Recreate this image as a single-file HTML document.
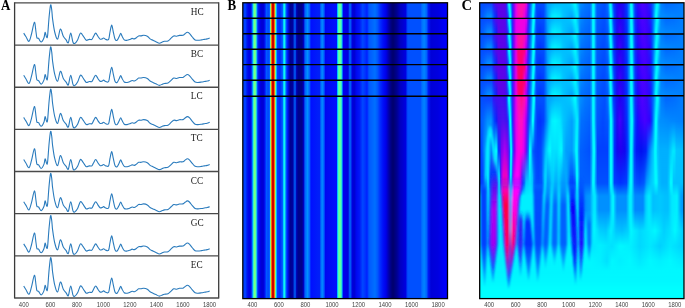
<!DOCTYPE html>
<html><head><meta charset="utf-8"><style>
html,body{margin:0;padding:0;background:#fff;}
body{width:685px;height:308px;overflow:hidden;position:relative;}
.abs{position:absolute;}
.m{-webkit-mask-image:linear-gradient(to bottom,transparent,#000);mask-image:linear-gradient(to bottom,transparent,#000);}
svg{position:absolute;left:0;top:0;}
</style></head><body>
<div class="abs" style="left:243.0px;top:3.2px;width:204.2px;height:294.8px;background:linear-gradient(to right,#0040ff 0.5px,#0040ff 2.5px,#0018f0 4.0px,#0000e4 6.0px,#0008e8 7.8px,#0040ff 8.8px,#00a8ff 9.7px,#40ffc0 10.6px,#90ff70 11.8px,#40ffc0 13.0px,#00a0ff 13.9px,#0028ff 14.8px,#0000e8 17.0px,#0000d0 19.0px,#0000e0 21.0px,#0030ff 22.5px,#0064ff 23.7px,#0040ff 25.0px,#0060ff 26.5px,#50ffb0 27.3px,#ffe000 28.0px,#ff5000 28.6px,#e00000 29.3px,#a00000 30.0px,#e00000 30.7px,#ff5000 31.4px,#ffd000 31.8px,#60ffa0 32.6px,#00c0ff 33.4px,#0040ff 34.2px,#0024ff 37.0px,#0060ff 39.6px,#00d0ff 40.5px,#20ffe0 41.3px,#00d0ff 42.1px,#0060ff 43.0px,#0020ff 44.3px,#0000c0 46.2px,#000090 47.5px,#0000a0 49.8px,#0064ff 52.0px,#0000b0 53.6px,#00008c 55.3px,#00008c 59.0px,#0000c0 60.5px,#0060ff 62.0px,#0090ff 64.5px,#0060ff 66.5px,#0010ff 68.0px,#0020f8 76.5px,#0070ff 78.0px,#0088ff 79.4px,#0060ff 81.0px,#0008f0 82.5px,#0010ff 93.5px,#00c0ff 94.5px,#40ffc0 95.3px,#70ff90 96.7px,#40ffc0 98.2px,#00a0ff 99.2px,#0000f0 100.2px,#0000e0 105.1px,#0070ff 107.0px,#0000e0 109.3px,#0000d0 111.2px,#0008f0 113.4px,#0018f8 116.5px,#0048ff 119.7px,#0030ff 122.5px,#0020ff 124.0px,#0058ff 126.0px,#0070ff 132.0px,#0058ff 134.5px,#0030ff 137.0px,#0010f8 140.0px,#0000e8 143.0px,#0000b0 145.5px,#000080 148.0px,#00006c 150.0px,#000090 153.8px,#0000c0 157.0px,#0000e0 162.5px,#0050ff 164.8px,#0050ff 177.5px,#0070ff 179.0px,#0084ff 181.2px,#0064ff 183.5px,#0018f4 185.5px,#0000d8 188.0px,#0000e0 195.0px,#0000f4 200.0px,#0000ff 204.0px)"></div>
<div class="abs" style="left:480.0px;top:3.0px;width:204.0px;height:15.4px;background:linear-gradient(to right,#0050ff 0.5px,#0848ff 6.0px,#1040ff 11.7px,#3018f8 13.5px,#5c04e8 16.0px,#5c04e8 22.0px,#5c04e8 25.3px,#1040ff 26.7px,#00c0ff 28.0px,#00ffff 28.6px,#00ffff 29.7px,#00c0ff 30.3px,#2030ff 32.0px,#8000f0 34.0px,#e000f0 36.0px,#ff10b0 38.0px,#ff10b0 41.5px,#ff10b0 44.5px,#e000f0 46.5px,#6010f0 48.0px,#1040ff 49.5px,#0070ff 51.0px,#00d0ff 52.5px,#00ffff 53.1px,#00ffff 54.4px,#00b0ff 55.0px,#0050ff 56.5px,#0050ff 64.0px,#00a0ff 67.5px,#00b8ff 75.0px,#00c0ff 86.0px,#00c8ff 90.0px,#00e0ff 92.5px,#00f8ff 94.3px,#00f8ff 95.7px,#00c0ff 97.5px,#0090ff 100.0px,#0078ff 105.0px,#0070ff 110.0px,#00b0ff 111.8px,#00f8ff 112.7px,#00f8ff 114.1px,#00b0ff 115.0px,#0060ff 117.0px,#0050ff 125.0px,#0070ff 127.5px,#00b0ff 129.0px,#00f8ff 129.7px,#00f8ff 131.1px,#00b0ff 131.8px,#0040ff 133.5px,#1018f8 136.0px,#2000f0 139.5px,#1810f8 144.0px,#0040ff 147.0px,#00a0ff 149.5px,#00f8ff 150.6px,#00f8ff 152.0px,#00a0ff 153.0px,#1030ff 155.0px,#3008f8 158.0px,#5000ff 162.2px,#3808f8 167.0px,#1030ff 171.0px,#0070ff 173.5px,#00c0ff 175.5px,#00f8ff 176.7px,#00f8ff 178.1px,#00c0ff 179.3px,#0080ff 181.0px,#0068ff 186.0px,#0070ff 195.0px,#0080ff 204.0px)"></div>
<div class="abs m" style="left:480.0px;top:3.0px;width:204.0px;height:15.4px;background:linear-gradient(to right,#0058ff 0.5px,#0068ff 3.5px,#0090ff 7.5px,#0098ff 11.0px,#0040ff 14.6px,#1020f8 16.5px,#5c04e8 18.5px,#5c04e8 23.0px,#4010f0 27.2px,#1040ff 28.3px,#00b0ff 29.3px,#00ffff 29.8px,#00ffff 30.8px,#00b0ff 31.3px,#2030ff 32.5px,#8000f0 33.9px,#e000f0 36.0px,#ff10b0 39.0px,#ff10b0 42.0px,#e000f0 44.5px,#a000f0 46.1px,#3020ff 48.0px,#0070ff 50.0px,#00c0ff 51.6px,#00ffff 52.2px,#00ffff 53.4px,#00b0ff 54.0px,#0060ff 55.5px,#0038ff 57.5px,#0030ff 60.2px,#0040ff 63.5px,#0070ff 65.8px,#00c0ff 69.0px,#00f0ff 72.0px,#00f8ff 75.0px,#00e8ff 80.0px,#00c8ff 83.0px,#00b0ff 88.0px,#00a0ff 92.0px,#00c0ff 94.5px,#00e8ff 96.6px,#00e8ff 98.0px,#00a0ff 99.0px,#0070ff 101.0px,#0060ff 109.5px,#00a0ff 111.5px,#00f8ff 112.7px,#00f8ff 114.1px,#00a0ff 115.3px,#0058ff 117.0px,#0048ff 123.0px,#0058ff 128.0px,#00b0ff 129.8px,#00f8ff 130.5px,#00f8ff 131.9px,#00b0ff 132.6px,#0040ff 134.5px,#2008f0 137.0px,#4000ff 139.8px,#2008f0 143.0px,#0030ff 147.0px,#00b0ff 149.8px,#00f8ff 151.0px,#00f8ff 152.4px,#00a0ff 153.5px,#0040ff 155.0px,#1010ff 157.3px,#3000ff 160.0px,#4800ff 164.8px,#3000ff 169.9px,#0040ff 172.0px,#00b0ff 174.2px,#00f8ff 175.5px,#00f8ff 176.9px,#00b0ff 178.0px,#0090ff 180.0px,#0088ff 190.0px,#0080ff 204.0px)"></div>
<div class="abs" style="left:480.0px;top:18.4px;width:204.0px;height:15.6px;background:linear-gradient(to right,#0050ff 0.5px,#0848ff 6.0px,#1040ff 11.7px,#3018f8 13.5px,#5c04e8 16.0px,#5c04e8 22.0px,#5c04e8 25.3px,#1040ff 26.7px,#00c0ff 28.0px,#00ffff 28.6px,#00ffff 29.7px,#00c0ff 30.3px,#2030ff 32.0px,#8000f0 34.0px,#e000f0 36.0px,#f000e0 38.0px,#f000e0 41.5px,#f000e0 44.5px,#e000f0 46.5px,#6010f0 48.0px,#1040ff 49.5px,#0070ff 51.0px,#00d0ff 52.5px,#00ffff 53.1px,#00ffff 54.4px,#00b0ff 55.0px,#0050ff 56.5px,#0050ff 64.0px,#00a0ff 67.5px,#00b8ff 75.0px,#00c0ff 86.0px,#00c8ff 90.0px,#00e0ff 92.5px,#00f8ff 94.3px,#00f8ff 95.7px,#00c0ff 97.5px,#0090ff 100.0px,#0078ff 105.0px,#0070ff 110.0px,#00b0ff 111.8px,#00f8ff 112.7px,#00f8ff 114.1px,#00b0ff 115.0px,#0060ff 117.0px,#0050ff 125.0px,#0070ff 127.5px,#00b0ff 129.0px,#00f8ff 129.7px,#00f8ff 131.1px,#00b0ff 131.8px,#0040ff 133.5px,#1018f8 136.0px,#2000f0 139.5px,#1810f8 144.0px,#0040ff 147.0px,#00a0ff 149.5px,#00f8ff 150.6px,#00f8ff 152.0px,#00a0ff 153.0px,#1030ff 155.0px,#3008f8 158.0px,#5000ff 162.2px,#3808f8 167.0px,#1030ff 171.0px,#0070ff 173.5px,#00c0ff 175.5px,#00f8ff 176.7px,#00f8ff 178.1px,#00c0ff 179.3px,#0080ff 181.0px,#0068ff 186.0px,#0070ff 195.0px,#0080ff 204.0px)"></div>
<div class="abs m" style="left:480.0px;top:18.4px;width:204.0px;height:15.6px;background:linear-gradient(to right,#0058ff 0.5px,#0068ff 3.5px,#0090ff 7.5px,#0098ff 11.0px,#0040ff 14.6px,#1020f8 16.5px,#5c04e8 18.5px,#5c04e8 23.0px,#4010f0 27.2px,#1040ff 28.3px,#00b0ff 29.3px,#00ffff 29.8px,#00ffff 30.8px,#00b0ff 31.3px,#2030ff 32.5px,#8000f0 33.9px,#e000f0 36.0px,#f000e0 39.0px,#f000e0 42.0px,#e000f0 44.5px,#a000f0 46.1px,#3020ff 48.0px,#0070ff 50.0px,#00c0ff 51.6px,#00ffff 52.2px,#00ffff 53.4px,#00b0ff 54.0px,#0060ff 55.5px,#0038ff 57.5px,#0030ff 60.2px,#0040ff 63.5px,#0070ff 65.8px,#00c0ff 69.0px,#00f0ff 72.0px,#00f8ff 75.0px,#00e8ff 80.0px,#00c8ff 83.0px,#00b0ff 88.0px,#00a0ff 92.0px,#00c0ff 94.5px,#00e8ff 96.6px,#00e8ff 98.0px,#00a0ff 99.0px,#0070ff 101.0px,#0060ff 109.5px,#00a0ff 111.5px,#00f8ff 112.7px,#00f8ff 114.1px,#00a0ff 115.3px,#0058ff 117.0px,#0048ff 123.0px,#0058ff 128.0px,#00b0ff 129.8px,#00f8ff 130.5px,#00f8ff 131.9px,#00b0ff 132.6px,#0040ff 134.5px,#2008f0 137.0px,#4000ff 139.8px,#2008f0 143.0px,#0030ff 147.0px,#00b0ff 149.8px,#00f8ff 151.0px,#00f8ff 152.4px,#00a0ff 153.5px,#0040ff 155.0px,#1010ff 157.3px,#3000ff 160.0px,#4800ff 164.8px,#3000ff 169.9px,#0040ff 172.0px,#00b0ff 174.2px,#00f8ff 175.5px,#00f8ff 176.9px,#00b0ff 178.0px,#0090ff 180.0px,#0088ff 190.0px,#0080ff 204.0px)"></div>
<div class="abs" style="left:480.0px;top:34.0px;width:204.0px;height:15.3px;background:linear-gradient(to right,#0050ff 0.5px,#0848ff 6.0px,#1040ff 11.7px,#3018f8 13.5px,#5c04e8 16.0px,#5c04e8 22.0px,#5c04e8 25.3px,#1040ff 26.7px,#00c0ff 28.0px,#00ffff 28.6px,#00ffff 29.7px,#00c0ff 30.3px,#2030ff 32.0px,#8000f0 34.0px,#e000f0 36.0px,#ff10a0 38.0px,#ff10a0 41.5px,#ff10a0 44.5px,#e000f0 46.5px,#6010f0 48.0px,#1040ff 49.5px,#0070ff 51.0px,#00d0ff 52.5px,#00ffff 53.1px,#00ffff 54.4px,#00b0ff 55.0px,#0050ff 56.5px,#0050ff 64.0px,#00a0ff 67.5px,#00b8ff 75.0px,#00c0ff 86.0px,#00c8ff 90.0px,#00e0ff 92.5px,#00f8ff 94.3px,#00f8ff 95.7px,#00c0ff 97.5px,#0090ff 100.0px,#0078ff 105.0px,#0070ff 110.0px,#00b0ff 111.8px,#00f8ff 112.7px,#00f8ff 114.1px,#00b0ff 115.0px,#0060ff 117.0px,#0050ff 125.0px,#0070ff 127.5px,#00b0ff 129.0px,#00f8ff 129.7px,#00f8ff 131.1px,#00b0ff 131.8px,#0040ff 133.5px,#1018f8 136.0px,#2000f0 139.5px,#1810f8 144.0px,#0040ff 147.0px,#00a0ff 149.5px,#00f8ff 150.6px,#00f8ff 152.0px,#00a0ff 153.0px,#1030ff 155.0px,#3008f8 158.0px,#5000ff 162.2px,#3808f8 167.0px,#1030ff 171.0px,#0070ff 173.5px,#00c0ff 175.5px,#00f8ff 176.7px,#00f8ff 178.1px,#00c0ff 179.3px,#0080ff 181.0px,#0068ff 186.0px,#0070ff 195.0px,#0080ff 204.0px)"></div>
<div class="abs m" style="left:480.0px;top:34.0px;width:204.0px;height:15.3px;background:linear-gradient(to right,#0058ff 0.5px,#0068ff 3.5px,#0090ff 7.5px,#0098ff 11.0px,#0040ff 14.6px,#1020f8 16.5px,#5c04e8 18.5px,#5c04e8 23.0px,#4010f0 27.2px,#1040ff 28.3px,#00b0ff 29.3px,#00ffff 29.8px,#00ffff 30.8px,#00b0ff 31.3px,#2030ff 32.5px,#8000f0 33.9px,#e000f0 36.0px,#ff10a0 39.0px,#ff10a0 42.0px,#e000f0 44.5px,#a000f0 46.1px,#3020ff 48.0px,#0070ff 50.0px,#00c0ff 51.6px,#00ffff 52.2px,#00ffff 53.4px,#00b0ff 54.0px,#0060ff 55.5px,#0038ff 57.5px,#0030ff 60.2px,#0040ff 63.5px,#0070ff 65.8px,#00c0ff 69.0px,#00f0ff 72.0px,#00f8ff 75.0px,#00e8ff 80.0px,#00c8ff 83.0px,#00b0ff 88.0px,#00a0ff 92.0px,#00c0ff 94.5px,#00e8ff 96.6px,#00e8ff 98.0px,#00a0ff 99.0px,#0070ff 101.0px,#0060ff 109.5px,#00a0ff 111.5px,#00f8ff 112.7px,#00f8ff 114.1px,#00a0ff 115.3px,#0058ff 117.0px,#0048ff 123.0px,#0058ff 128.0px,#00b0ff 129.8px,#00f8ff 130.5px,#00f8ff 131.9px,#00b0ff 132.6px,#0040ff 134.5px,#2008f0 137.0px,#4000ff 139.8px,#2008f0 143.0px,#0030ff 147.0px,#00b0ff 149.8px,#00f8ff 151.0px,#00f8ff 152.4px,#00a0ff 153.5px,#0040ff 155.0px,#1010ff 157.3px,#3000ff 160.0px,#4800ff 164.8px,#3000ff 169.9px,#0040ff 172.0px,#00b0ff 174.2px,#00f8ff 175.5px,#00f8ff 176.9px,#00b0ff 178.0px,#0090ff 180.0px,#0088ff 190.0px,#0080ff 204.0px)"></div>
<div class="abs" style="left:480.0px;top:49.3px;width:204.0px;height:15.5px;background:linear-gradient(to right,#0050ff 0.5px,#0848ff 6.0px,#1040ff 11.7px,#3018f8 13.5px,#5c04e8 16.0px,#5c04e8 22.0px,#5c04e8 25.3px,#1040ff 26.7px,#00c0ff 28.0px,#00ffff 28.6px,#00ffff 29.7px,#00c0ff 30.3px,#2030ff 32.0px,#8000f0 34.0px,#e000f0 36.0px,#ff0070 38.0px,#ff0070 41.5px,#ff0070 44.5px,#e000f0 46.5px,#6010f0 48.0px,#1040ff 49.5px,#0070ff 51.0px,#00d0ff 52.5px,#00ffff 53.1px,#00ffff 54.4px,#00b0ff 55.0px,#0050ff 56.5px,#0050ff 64.0px,#00a0ff 67.5px,#00b8ff 75.0px,#00c0ff 86.0px,#00c8ff 90.0px,#00e0ff 92.5px,#00f8ff 94.3px,#00f8ff 95.7px,#00c0ff 97.5px,#0090ff 100.0px,#0078ff 105.0px,#0070ff 110.0px,#00b0ff 111.8px,#00f8ff 112.7px,#00f8ff 114.1px,#00b0ff 115.0px,#0060ff 117.0px,#0050ff 125.0px,#0070ff 127.5px,#00b0ff 129.0px,#00f8ff 129.7px,#00f8ff 131.1px,#00b0ff 131.8px,#0040ff 133.5px,#1018f8 136.0px,#2000f0 139.5px,#1810f8 144.0px,#0040ff 147.0px,#00a0ff 149.5px,#00f8ff 150.6px,#00f8ff 152.0px,#00a0ff 153.0px,#1030ff 155.0px,#3008f8 158.0px,#5000ff 162.2px,#3808f8 167.0px,#1030ff 171.0px,#0070ff 173.5px,#00c0ff 175.5px,#00f8ff 176.7px,#00f8ff 178.1px,#00c0ff 179.3px,#0080ff 181.0px,#0068ff 186.0px,#0070ff 195.0px,#0080ff 204.0px)"></div>
<div class="abs m" style="left:480.0px;top:49.3px;width:204.0px;height:15.5px;background:linear-gradient(to right,#0058ff 0.5px,#0068ff 3.5px,#0090ff 7.5px,#0098ff 11.0px,#0040ff 14.6px,#1020f8 16.5px,#5c04e8 18.5px,#5c04e8 23.0px,#4010f0 27.2px,#1040ff 28.3px,#00b0ff 29.3px,#00ffff 29.8px,#00ffff 30.8px,#00b0ff 31.3px,#2030ff 32.5px,#8000f0 33.9px,#e000f0 36.0px,#ff0070 39.0px,#ff0070 42.0px,#e000f0 44.5px,#a000f0 46.1px,#3020ff 48.0px,#0070ff 50.0px,#00c0ff 51.6px,#00ffff 52.2px,#00ffff 53.4px,#00b0ff 54.0px,#0060ff 55.5px,#0038ff 57.5px,#0030ff 60.2px,#0040ff 63.5px,#0070ff 65.8px,#00c0ff 69.0px,#00f0ff 72.0px,#00f8ff 75.0px,#00e8ff 80.0px,#00c8ff 83.0px,#00b0ff 88.0px,#00a0ff 92.0px,#00c0ff 94.5px,#00e8ff 96.6px,#00e8ff 98.0px,#00a0ff 99.0px,#0070ff 101.0px,#0060ff 109.5px,#00a0ff 111.5px,#00f8ff 112.7px,#00f8ff 114.1px,#00a0ff 115.3px,#0058ff 117.0px,#0048ff 123.0px,#0058ff 128.0px,#00b0ff 129.8px,#00f8ff 130.5px,#00f8ff 131.9px,#00b0ff 132.6px,#0040ff 134.5px,#2008f0 137.0px,#4000ff 139.8px,#2008f0 143.0px,#0030ff 147.0px,#00b0ff 149.8px,#00f8ff 151.0px,#00f8ff 152.4px,#00a0ff 153.5px,#0040ff 155.0px,#1010ff 157.3px,#3000ff 160.0px,#4800ff 164.8px,#3000ff 169.9px,#0040ff 172.0px,#00b0ff 174.2px,#00f8ff 175.5px,#00f8ff 176.9px,#00b0ff 178.0px,#0090ff 180.0px,#0088ff 190.0px,#0080ff 204.0px)"></div>
<div class="abs" style="left:480.0px;top:64.8px;width:204.0px;height:15.4px;background:linear-gradient(to right,#0050ff 0.5px,#0848ff 6.0px,#1040ff 11.7px,#3018f8 13.5px,#5c04e8 16.0px,#5c04e8 22.0px,#5c04e8 25.3px,#1040ff 26.7px,#00c0ff 28.0px,#00ffff 28.6px,#00ffff 29.7px,#00c0ff 30.3px,#2030ff 32.0px,#8000f0 34.0px,#e000f0 36.0px,#ff0060 38.0px,#ff0060 41.5px,#ff0060 44.5px,#e000f0 46.5px,#6010f0 48.0px,#1040ff 49.5px,#0070ff 51.0px,#00d0ff 52.5px,#00ffff 53.1px,#00ffff 54.4px,#00b0ff 55.0px,#0050ff 56.5px,#0050ff 64.0px,#00a0ff 67.5px,#00b8ff 75.0px,#00c0ff 86.0px,#00c8ff 90.0px,#00e0ff 92.5px,#00f8ff 94.3px,#00f8ff 95.7px,#00c0ff 97.5px,#0090ff 100.0px,#0078ff 105.0px,#0070ff 110.0px,#00b0ff 111.8px,#00f8ff 112.7px,#00f8ff 114.1px,#00b0ff 115.0px,#0060ff 117.0px,#0050ff 125.0px,#0070ff 127.5px,#00b0ff 129.0px,#00f8ff 129.7px,#00f8ff 131.1px,#00b0ff 131.8px,#0040ff 133.5px,#1018f8 136.0px,#2000f0 139.5px,#1810f8 144.0px,#0040ff 147.0px,#00a0ff 149.5px,#00f8ff 150.6px,#00f8ff 152.0px,#00a0ff 153.0px,#1030ff 155.0px,#3008f8 158.0px,#5000ff 162.2px,#3808f8 167.0px,#1030ff 171.0px,#0070ff 173.5px,#00c0ff 175.5px,#00f8ff 176.7px,#00f8ff 178.1px,#00c0ff 179.3px,#0080ff 181.0px,#0068ff 186.0px,#0070ff 195.0px,#0080ff 204.0px)"></div>
<div class="abs m" style="left:480.0px;top:64.8px;width:204.0px;height:15.4px;background:linear-gradient(to right,#0058ff 0.5px,#0068ff 3.5px,#0090ff 7.5px,#0098ff 11.0px,#0040ff 14.6px,#1020f8 16.5px,#5c04e8 18.5px,#5c04e8 23.0px,#4010f0 27.2px,#1040ff 28.3px,#00b0ff 29.3px,#00ffff 29.8px,#00ffff 30.8px,#00b0ff 31.3px,#2030ff 32.5px,#8000f0 33.9px,#e000f0 36.0px,#ff0060 39.0px,#ff0060 42.0px,#e000f0 44.5px,#a000f0 46.1px,#3020ff 48.0px,#0070ff 50.0px,#00c0ff 51.6px,#00ffff 52.2px,#00ffff 53.4px,#00b0ff 54.0px,#0060ff 55.5px,#0038ff 57.5px,#0030ff 60.2px,#0040ff 63.5px,#0070ff 65.8px,#00c0ff 69.0px,#00f0ff 72.0px,#00f8ff 75.0px,#00e8ff 80.0px,#00c8ff 83.0px,#00b0ff 88.0px,#00a0ff 92.0px,#00c0ff 94.5px,#00e8ff 96.6px,#00e8ff 98.0px,#00a0ff 99.0px,#0070ff 101.0px,#0060ff 109.5px,#00a0ff 111.5px,#00f8ff 112.7px,#00f8ff 114.1px,#00a0ff 115.3px,#0058ff 117.0px,#0048ff 123.0px,#0058ff 128.0px,#00b0ff 129.8px,#00f8ff 130.5px,#00f8ff 131.9px,#00b0ff 132.6px,#0040ff 134.5px,#2008f0 137.0px,#4000ff 139.8px,#2008f0 143.0px,#0030ff 147.0px,#00b0ff 149.8px,#00f8ff 151.0px,#00f8ff 152.4px,#00a0ff 153.5px,#0040ff 155.0px,#1010ff 157.3px,#3000ff 160.0px,#4800ff 164.8px,#3000ff 169.9px,#0040ff 172.0px,#00b0ff 174.2px,#00f8ff 175.5px,#00f8ff 176.9px,#00b0ff 178.0px,#0090ff 180.0px,#0088ff 190.0px,#0080ff 204.0px)"></div>
<div class="abs" style="left:480.0px;top:80.2px;width:204.0px;height:15.6px;background:linear-gradient(to right,#0050ff 0.5px,#0848ff 6.0px,#1040ff 11.7px,#3018f8 13.5px,#5c04e8 16.0px,#5c04e8 22.0px,#5c04e8 25.3px,#1040ff 26.7px,#00c0ff 28.0px,#00ffff 28.6px,#00ffff 29.7px,#00c0ff 30.3px,#2030ff 32.0px,#8000f0 34.0px,#e000f0 36.0px,#ff0060 38.0px,#ff0060 41.5px,#ff0060 44.5px,#e000f0 46.5px,#6010f0 48.0px,#1040ff 49.5px,#0070ff 51.0px,#00d0ff 52.5px,#00ffff 53.1px,#00ffff 54.4px,#00b0ff 55.0px,#0050ff 56.5px,#0050ff 64.0px,#00a0ff 67.5px,#00b8ff 75.0px,#00c0ff 86.0px,#00c8ff 90.0px,#00e0ff 92.5px,#00f8ff 94.3px,#00f8ff 95.7px,#00c0ff 97.5px,#0090ff 100.0px,#0078ff 105.0px,#0070ff 110.0px,#00b0ff 111.8px,#00f8ff 112.7px,#00f8ff 114.1px,#00b0ff 115.0px,#0060ff 117.0px,#0050ff 125.0px,#0070ff 127.5px,#00b0ff 129.0px,#00f8ff 129.7px,#00f8ff 131.1px,#00b0ff 131.8px,#0040ff 133.5px,#1018f8 136.0px,#2000f0 139.5px,#1810f8 144.0px,#0040ff 147.0px,#00a0ff 149.5px,#00f8ff 150.6px,#00f8ff 152.0px,#00a0ff 153.0px,#1030ff 155.0px,#3008f8 158.0px,#5000ff 162.2px,#3808f8 167.0px,#1030ff 171.0px,#0070ff 173.5px,#00c0ff 175.5px,#00f8ff 176.7px,#00f8ff 178.1px,#00c0ff 179.3px,#0080ff 181.0px,#0068ff 186.0px,#0070ff 195.0px,#0080ff 204.0px)"></div>
<div class="abs m" style="left:480.0px;top:80.2px;width:204.0px;height:15.6px;background:linear-gradient(to right,#0058ff 0.5px,#0068ff 3.5px,#0090ff 7.5px,#0098ff 11.0px,#0040ff 14.6px,#1020f8 16.5px,#5c04e8 18.5px,#5c04e8 23.0px,#4010f0 27.2px,#1040ff 28.3px,#00b0ff 29.3px,#00ffff 29.8px,#00ffff 30.8px,#00b0ff 31.3px,#2030ff 32.5px,#8000f0 33.9px,#e000f0 36.0px,#ff0060 39.0px,#ff0060 42.0px,#e000f0 44.5px,#a000f0 46.1px,#3020ff 48.0px,#0070ff 50.0px,#00c0ff 51.6px,#00ffff 52.2px,#00ffff 53.4px,#00b0ff 54.0px,#0060ff 55.5px,#0038ff 57.5px,#0030ff 60.2px,#0040ff 63.5px,#0070ff 65.8px,#00c0ff 69.0px,#00f0ff 72.0px,#00f8ff 75.0px,#00e8ff 80.0px,#00c8ff 83.0px,#00b0ff 88.0px,#00a0ff 92.0px,#00c0ff 94.5px,#00e8ff 96.6px,#00e8ff 98.0px,#00a0ff 99.0px,#0070ff 101.0px,#0060ff 109.5px,#00a0ff 111.5px,#00f8ff 112.7px,#00f8ff 114.1px,#00a0ff 115.3px,#0058ff 117.0px,#0048ff 123.0px,#0058ff 128.0px,#00b0ff 129.8px,#00f8ff 130.5px,#00f8ff 131.9px,#00b0ff 132.6px,#0040ff 134.5px,#2008f0 137.0px,#4000ff 139.8px,#2008f0 143.0px,#0030ff 147.0px,#00b0ff 149.8px,#00f8ff 151.0px,#00f8ff 152.4px,#00a0ff 153.5px,#0040ff 155.0px,#1010ff 157.3px,#3000ff 160.0px,#4800ff 164.8px,#3000ff 169.9px,#0040ff 172.0px,#00b0ff 174.2px,#00f8ff 175.5px,#00f8ff 176.9px,#00b0ff 178.0px,#0090ff 180.0px,#0088ff 190.0px,#0080ff 204.0px)"></div>
<div class="abs" style="left:480.0px;top:95.8px;width:204.0px;height:3.2px;background:linear-gradient(to right,#0050ff 0.5px,#0848ff 6.0px,#1040ff 11.7px,#3018f8 13.5px,#4010f0 16.0px,#4410f0 22.0px,#3c10f0 25.3px,#1040ff 26.7px,#00c0ff 28.0px,#00ffff 28.6px,#00ffff 29.7px,#00c0ff 30.3px,#2030ff 32.0px,#8000f0 34.0px,#e000f0 36.0px,#ff10b0 38.0px,#ff1090 41.5px,#ff10b0 44.5px,#e000f0 46.5px,#6010f0 48.0px,#1040ff 49.5px,#0070ff 51.0px,#00d0ff 52.5px,#00ffff 53.1px,#00ffff 54.4px,#00b0ff 55.0px,#0050ff 56.5px,#0050ff 64.0px,#00a0ff 67.5px,#00b8ff 75.0px,#00c0ff 86.0px,#00c8ff 90.0px,#00e0ff 92.5px,#00f8ff 94.3px,#00f8ff 95.7px,#00c0ff 97.5px,#0090ff 100.0px,#0078ff 105.0px,#0070ff 110.0px,#00b0ff 111.8px,#00f8ff 112.7px,#00f8ff 114.1px,#00b0ff 115.0px,#0060ff 117.0px,#0050ff 125.0px,#0070ff 127.5px,#00b0ff 129.0px,#00f8ff 129.7px,#00f8ff 131.1px,#00b0ff 131.8px,#0040ff 133.5px,#1018f8 136.0px,#2000f0 139.5px,#1810f8 144.0px,#0040ff 147.0px,#00a0ff 149.5px,#00f8ff 150.6px,#00f8ff 152.0px,#00a0ff 153.0px,#1030ff 155.0px,#3008f8 158.0px,#5000ff 162.2px,#3808f8 167.0px,#1030ff 171.0px,#0070ff 173.5px,#00c0ff 175.5px,#00f8ff 176.7px,#00f8ff 178.1px,#00c0ff 179.3px,#0080ff 181.0px,#0068ff 186.0px,#0070ff 195.0px,#0080ff 204.0px)"></div>
<div class="abs" style="left:480.0px;top:99.0px;width:204.0px;height:22.0px;background:linear-gradient(to right,#0050ff 0.5px,#0848ff 6.0px,#1040ff 11.7px,#3018f8 13.5px,#4010f0 16.0px,#4410f0 22.0px,#3c10f0 25.3px,#1040ff 26.7px,#00c0ff 28.0px,#00ffff 28.6px,#00ffff 29.7px,#00c0ff 30.3px,#2030ff 32.0px,#8000f0 34.0px,#e000f0 36.0px,#ff10b0 38.0px,#ff1090 41.5px,#ff10b0 44.5px,#e000f0 46.5px,#6010f0 48.0px,#1040ff 49.5px,#0070ff 51.0px,#00d0ff 52.5px,#00ffff 53.1px,#00ffff 54.4px,#00b0ff 55.0px,#0050ff 56.5px,#0050ff 64.0px,#00a0ff 67.5px,#00b8ff 75.0px,#00c0ff 86.0px,#00c8ff 90.0px,#00e0ff 92.5px,#00f8ff 94.3px,#00f8ff 95.7px,#00c0ff 97.5px,#0090ff 100.0px,#0078ff 105.0px,#0070ff 110.0px,#00b0ff 111.8px,#00f8ff 112.7px,#00f8ff 114.1px,#00b0ff 115.0px,#0060ff 117.0px,#0050ff 125.0px,#0070ff 127.5px,#00b0ff 129.0px,#00f8ff 129.7px,#00f8ff 131.1px,#00b0ff 131.8px,#0040ff 133.5px,#1018f8 136.0px,#2000f0 139.5px,#1810f8 144.0px,#0040ff 147.0px,#00a0ff 149.5px,#00f8ff 150.6px,#00f8ff 152.0px,#00a0ff 153.0px,#1030ff 155.0px,#3008f8 158.0px,#5000ff 162.2px,#3808f8 167.0px,#1030ff 171.0px,#0070ff 173.5px,#00c0ff 175.5px,#00f8ff 176.7px,#00f8ff 178.1px,#00c0ff 179.3px,#0080ff 181.0px,#0068ff 186.0px,#0070ff 195.0px,#0080ff 204.0px)"></div>
<div class="abs m" style="left:480.0px;top:99.0px;width:204.0px;height:22.0px;background:linear-gradient(to right,#0058ff 0.5px,#0068ff 3.5px,#0090ff 7.5px,#0098ff 11.0px,#0040ff 14.6px,#1020f8 16.5px,#4010f0 18.5px,#5010f0 23.0px,#4010f0 27.2px,#1040ff 28.3px,#00b0ff 29.3px,#00ffff 29.8px,#00ffff 30.8px,#00b0ff 31.3px,#2030ff 32.5px,#8000f0 33.9px,#e000f0 36.0px,#ff10c0 39.0px,#ff10c0 42.0px,#e000f0 44.5px,#a000f0 46.1px,#3020ff 48.0px,#0070ff 50.0px,#00c0ff 51.6px,#00ffff 52.2px,#00ffff 53.4px,#00b0ff 54.0px,#0060ff 55.5px,#0038ff 57.5px,#0030ff 60.2px,#0040ff 63.5px,#0070ff 65.8px,#00c0ff 69.0px,#00f0ff 72.0px,#00f8ff 75.0px,#00e8ff 80.0px,#00c8ff 83.0px,#00b0ff 88.0px,#00a0ff 92.0px,#00c0ff 94.5px,#00e8ff 96.6px,#00e8ff 98.0px,#00a0ff 99.0px,#0070ff 101.0px,#0060ff 109.5px,#00a0ff 111.5px,#00f8ff 112.7px,#00f8ff 114.1px,#00a0ff 115.3px,#0058ff 117.0px,#0048ff 123.0px,#0058ff 128.0px,#00b0ff 129.8px,#00f8ff 130.5px,#00f8ff 131.9px,#00b0ff 132.6px,#0040ff 134.5px,#2008f0 137.0px,#4000ff 139.8px,#2008f0 143.0px,#0030ff 147.0px,#00b0ff 149.8px,#00f8ff 151.0px,#00f8ff 152.4px,#00a0ff 153.5px,#0040ff 155.0px,#1010ff 157.3px,#3000ff 160.0px,#4800ff 164.8px,#3000ff 169.9px,#0040ff 172.0px,#00b0ff 174.2px,#00f8ff 175.5px,#00f8ff 176.9px,#00b0ff 178.0px,#0090ff 180.0px,#0088ff 190.0px,#0080ff 204.0px)"></div>
<div class="abs" style="left:480.0px;top:121.0px;width:204.0px;height:30.0px;background:linear-gradient(to right,#0058ff 0.5px,#0068ff 3.5px,#0090ff 7.5px,#0098ff 11.0px,#0040ff 14.6px,#1020f8 16.5px,#4010f0 18.5px,#5010f0 23.0px,#4010f0 27.2px,#1040ff 28.3px,#00b0ff 29.3px,#00ffff 29.8px,#00ffff 30.8px,#00b0ff 31.3px,#2030ff 32.5px,#8000f0 33.9px,#e000f0 36.0px,#ff10c0 39.0px,#ff10c0 42.0px,#e000f0 44.5px,#a000f0 46.1px,#3020ff 48.0px,#0070ff 50.0px,#00c0ff 51.6px,#00ffff 52.2px,#00ffff 53.4px,#00b0ff 54.0px,#0060ff 55.5px,#0038ff 57.5px,#0030ff 60.2px,#0040ff 63.5px,#0070ff 65.8px,#00c0ff 69.0px,#00f0ff 72.0px,#00f8ff 75.0px,#00e8ff 80.0px,#00c8ff 83.0px,#00b0ff 88.0px,#00a0ff 92.0px,#00c0ff 94.5px,#00e8ff 96.6px,#00e8ff 98.0px,#00a0ff 99.0px,#0070ff 101.0px,#0060ff 109.5px,#00a0ff 111.5px,#00f8ff 112.7px,#00f8ff 114.1px,#00a0ff 115.3px,#0058ff 117.0px,#0048ff 123.0px,#0058ff 128.0px,#00b0ff 129.8px,#00f8ff 130.5px,#00f8ff 131.9px,#00b0ff 132.6px,#0040ff 134.5px,#2008f0 137.0px,#4000ff 139.8px,#2008f0 143.0px,#0030ff 147.0px,#00b0ff 149.8px,#00f8ff 151.0px,#00f8ff 152.4px,#00a0ff 153.5px,#0040ff 155.0px,#1010ff 157.3px,#3000ff 160.0px,#4800ff 164.8px,#3000ff 169.9px,#0040ff 172.0px,#00b0ff 174.2px,#00f8ff 175.5px,#00f8ff 176.9px,#00b0ff 178.0px,#0090ff 180.0px,#0088ff 190.0px,#0080ff 204.0px)"></div>
<div class="abs m" style="left:480.0px;top:121.0px;width:204.0px;height:30.0px;background:linear-gradient(to right,#0040ff 0.5px,#0050ff 2.0px,#0080ff 4.0px,#00b0ff 6.5px,#00d8ff 7.9px,#00b0ff 9.5px,#0080ff 11.5px,#00a0ff 13.5px,#00d0ff 14.8px,#00f8ff 15.5px,#00f8ff 16.7px,#00b0ff 17.3px,#0040ff 18.5px,#2020ff 20.0px,#8000f0 21.5px,#b000f0 24.8px,#8000f0 28.0px,#2040ff 29.5px,#00c0ff 30.3px,#00f8ff 30.7px,#00f8ff 31.6px,#00c0ff 32.0px,#2040ff 33.0px,#8000f0 34.5px,#e000f0 36.5px,#ff00e0 38.2px,#ff00e0 41.4px,#e000f0 43.5px,#a000f0 45.3px,#4020ff 47.0px,#0080ff 48.5px,#00f8ff 49.3px,#00f8ff 50.7px,#00c0ff 51.5px,#0060ff 52.8px,#0048ff 55.0px,#0040ff 57.9px,#0048ff 61.0px,#0080ff 63.5px,#00c8ff 66.0px,#00f8ff 69.0px,#00f8ff 70.4px,#00e0ff 72.0px,#00e0ff 77.0px,#00f8ff 80.4px,#00f8ff 81.8px,#00c0ff 83.5px,#00a0ff 86.0px,#0098ff 92.0px,#00c8ff 94.5px,#00f8ff 95.8px,#00f8ff 97.2px,#00a0ff 98.5px,#0060ff 100.5px,#0050ff 109.5px,#00a0ff 111.8px,#00f8ff 113.1px,#00f8ff 114.5px,#00a0ff 115.8px,#0040ff 117.5px,#0040ff 127.5px,#00b0ff 129.6px,#00f8ff 130.5px,#00f8ff 131.9px,#00b0ff 132.8px,#0030ff 134.5px,#1008f0 137.0px,#2000f0 140.6px,#1008f0 145.0px,#0040ff 148.0px,#00b0ff 149.8px,#00f8ff 150.6px,#00f8ff 152.0px,#00b0ff 152.8px,#0040ff 154.5px,#0018f8 156.5px,#0010f0 161.2px,#0020f8 166.0px,#0060ff 168.3px,#00a0ff 171.0px,#00d0ff 173.5px,#00f8ff 174.7px,#00f8ff 176.1px,#00c8ff 177.5px,#00b0ff 180.0px,#00b0ff 188.0px,#00d0ff 191.0px,#00e8ff 192.9px,#00e8ff 194.3px,#00c8ff 196.5px,#00c0ff 204.0px)"></div>
<div class="abs" style="left:480.0px;top:151.0px;width:204.0px;height:32.0px;background:linear-gradient(to right,#0040ff 0.5px,#0050ff 2.0px,#0080ff 4.0px,#00b0ff 6.5px,#00d8ff 7.9px,#00b0ff 9.5px,#0080ff 11.5px,#00a0ff 13.5px,#00d0ff 14.8px,#00f8ff 15.5px,#00f8ff 16.7px,#00b0ff 17.3px,#0040ff 18.5px,#2020ff 20.0px,#8000f0 21.5px,#b000f0 24.8px,#8000f0 28.0px,#2040ff 29.5px,#00c0ff 30.3px,#00f8ff 30.7px,#00f8ff 31.6px,#00c0ff 32.0px,#2040ff 33.0px,#8000f0 34.5px,#e000f0 36.5px,#ff00e0 38.2px,#ff00e0 41.4px,#e000f0 43.5px,#a000f0 45.3px,#4020ff 47.0px,#0080ff 48.5px,#00f8ff 49.3px,#00f8ff 50.7px,#00c0ff 51.5px,#0060ff 52.8px,#0048ff 55.0px,#0040ff 57.9px,#0048ff 61.0px,#0080ff 63.5px,#00c8ff 66.0px,#00f8ff 69.0px,#00f8ff 70.4px,#00e0ff 72.0px,#00e0ff 77.0px,#00f8ff 80.4px,#00f8ff 81.8px,#00c0ff 83.5px,#00a0ff 86.0px,#0098ff 92.0px,#00c8ff 94.5px,#00f8ff 95.8px,#00f8ff 97.2px,#00a0ff 98.5px,#0060ff 100.5px,#0050ff 109.5px,#00a0ff 111.8px,#00f8ff 113.1px,#00f8ff 114.5px,#00a0ff 115.8px,#0040ff 117.5px,#0040ff 127.5px,#00b0ff 129.6px,#00f8ff 130.5px,#00f8ff 131.9px,#00b0ff 132.8px,#0030ff 134.5px,#1008f0 137.0px,#2000f0 140.6px,#1008f0 145.0px,#0040ff 148.0px,#00b0ff 149.8px,#00f8ff 150.6px,#00f8ff 152.0px,#00b0ff 152.8px,#0040ff 154.5px,#0018f8 156.5px,#0010f0 161.2px,#0020f8 166.0px,#0060ff 168.3px,#00a0ff 171.0px,#00d0ff 173.5px,#00f8ff 174.7px,#00f8ff 176.1px,#00c8ff 177.5px,#00b0ff 180.0px,#00b0ff 188.0px,#00d0ff 191.0px,#00e8ff 192.9px,#00e8ff 194.3px,#00c8ff 196.5px,#00c0ff 204.0px)"></div>
<div class="abs m" style="left:480.0px;top:151.0px;width:204.0px;height:32.0px;background:linear-gradient(to right,#0040ff 0.5px,#0040ff 5.0px,#0090ff 6.7px,#00e8ff 7.5px,#00e8ff 8.9px,#0090ff 9.8px,#2020f8 11.0px,#5010f0 12.5px,#6010f0 14.6px,#5010f0 16.5px,#2040ff 17.5px,#00f0ff 18.2px,#00f0ff 19.5px,#2040ff 20.2px,#a000f0 21.6px,#ff00c0 23.0px,#ff00b0 24.8px,#ff00c0 26.8px,#a000f0 28.4px,#2040ff 29.3px,#00f0ff 30.0px,#00f0ff 31.3px,#2040ff 31.9px,#c000f0 33.3px,#ff00ff 35.0px,#ff00ff 38.0px,#c000f0 40.3px,#4020ff 41.8px,#0060ff 43.3px,#0080ff 44.5px,#00c8ff 46.0px,#00e0ff 50.0px,#00d0ff 52.5px,#0080ff 54.0px,#0050ff 56.0px,#0048ff 58.7px,#0058ff 61.5px,#00a0ff 63.4px,#00f8ff 65.1px,#00f8ff 66.5px,#00c8ff 67.5px,#00c0ff 70.0px,#00d8ff 72.3px,#00f8ff 73.7px,#00f8ff 75.1px,#00d8ff 76.8px,#00c8ff 82.0px,#00c0ff 86.0px,#0080ff 88.5px,#0048ff 90.5px,#0040ff 92.6px,#0060ff 94.8px,#00b0ff 96.0px,#00f8ff 96.6px,#00f8ff 98.0px,#00b0ff 98.7px,#0060ff 100.5px,#0060ff 109.5px,#00a0ff 111.3px,#00f8ff 112.7px,#00f8ff 114.1px,#00a0ff 115.5px,#0050ff 117.5px,#0050ff 127.5px,#00b0ff 129.6px,#00f8ff 130.5px,#00f8ff 131.9px,#00b0ff 132.8px,#0040ff 134.5px,#0030ff 140.6px,#0040ff 146.5px,#00a0ff 148.5px,#00f8ff 150.2px,#00f8ff 151.6px,#00c0ff 152.8px,#0060ff 154.5px,#0050ff 156.5px,#0048ff 159.7px,#0058ff 164.0px,#00a0ff 166.8px,#00c0ff 170.0px,#00d8ff 173.3px,#00f8ff 175.5px,#00f8ff 176.9px,#00c0ff 178.8px,#00b0ff 182.0px,#00b0ff 187.0px,#00d0ff 189.2px,#00f8ff 190.5px,#00f8ff 191.9px,#00c0ff 193.6px,#00c0ff 204.0px)"></div>
<div class="abs" style="left:480.0px;top:183.0px;width:204.0px;height:13.0px;background:linear-gradient(to right,#0040ff 0.5px,#0040ff 5.0px,#0090ff 6.7px,#00e8ff 7.5px,#00e8ff 8.9px,#0090ff 9.8px,#2020f8 11.0px,#5010f0 12.5px,#6010f0 14.6px,#5010f0 16.5px,#2040ff 17.5px,#00f0ff 18.2px,#00f0ff 19.5px,#2040ff 20.2px,#a000f0 21.6px,#ff00c0 23.0px,#ff00b0 24.8px,#ff00c0 26.8px,#a000f0 28.4px,#2040ff 29.3px,#00f0ff 30.0px,#00f0ff 31.3px,#2040ff 31.9px,#c000f0 33.3px,#ff00ff 35.0px,#ff00ff 38.0px,#c000f0 40.3px,#4020ff 41.8px,#0060ff 43.3px,#0080ff 44.5px,#00c8ff 46.0px,#00e0ff 50.0px,#00d0ff 52.5px,#0080ff 54.0px,#0050ff 56.0px,#0048ff 58.7px,#0058ff 61.5px,#00a0ff 63.4px,#00f8ff 65.1px,#00f8ff 66.5px,#00c8ff 67.5px,#00c0ff 70.0px,#00d8ff 72.3px,#00f8ff 73.7px,#00f8ff 75.1px,#00d8ff 76.8px,#00c8ff 82.0px,#00c0ff 86.0px,#0080ff 88.5px,#0048ff 90.5px,#0040ff 92.6px,#0060ff 94.8px,#00b0ff 96.0px,#00f8ff 96.6px,#00f8ff 98.0px,#00b0ff 98.7px,#0060ff 100.5px,#0060ff 109.5px,#00a0ff 111.3px,#00f8ff 112.7px,#00f8ff 114.1px,#00a0ff 115.5px,#0050ff 117.5px,#0050ff 127.5px,#00b0ff 129.6px,#00f8ff 130.5px,#00f8ff 131.9px,#00b0ff 132.8px,#0040ff 134.5px,#0030ff 140.6px,#0040ff 146.5px,#00a0ff 148.5px,#00f8ff 150.2px,#00f8ff 151.6px,#00c0ff 152.8px,#0060ff 154.5px,#0050ff 156.5px,#0048ff 159.7px,#0058ff 164.0px,#00a0ff 166.8px,#00c0ff 170.0px,#00d8ff 173.3px,#00f8ff 175.5px,#00f8ff 176.9px,#00c0ff 178.8px,#00b0ff 182.0px,#00b0ff 187.0px,#00d0ff 189.2px,#00f8ff 190.5px,#00f8ff 191.9px,#00c0ff 193.6px,#00c0ff 204.0px)"></div>
<div class="abs m" style="left:480.0px;top:183.0px;width:204.0px;height:13.0px;background:linear-gradient(to right,#00f0ff 0.5px,#00f0ff 99.0px,#0070ff 100.5px,#0088ff 104.0px,#0098ff 110.0px,#00c8ff 112.0px,#00e8ff 113.8px,#00e8ff 115.2px,#00b0ff 117.0px,#0090ff 119.0px,#0090ff 129.0px,#00d0ff 131.0px,#00f0ff 132.1px,#00f0ff 133.5px,#00c0ff 134.8px,#0090ff 137.0px,#0090ff 146.0px,#00d0ff 148.5px,#00f0ff 149.8px,#00f0ff 151.2px,#00c0ff 152.8px,#0088ff 155.0px,#0088ff 163.0px,#00d0ff 166.0px,#00e8ff 168.3px,#00e8ff 169.7px,#00c0ff 173.0px,#00c8ff 180.0px,#00c0ff 185.0px,#00c0ff 188.0px,#00e8ff 192.0px,#00f0ff 197.0px,#00a0ff 201.0px,#0098ff 204.0px)"></div>
<div class="abs" style="left:480.0px;top:196.0px;width:204.0px;height:14.0px;background:linear-gradient(to right,#00f0ff 0.5px,#00f0ff 99.0px,#0070ff 100.5px,#0088ff 104.0px,#0098ff 110.0px,#00c8ff 112.0px,#00e8ff 113.8px,#00e8ff 115.2px,#00b0ff 117.0px,#0090ff 119.0px,#0090ff 129.0px,#00d0ff 131.0px,#00f0ff 132.1px,#00f0ff 133.5px,#00c0ff 134.8px,#0090ff 137.0px,#0090ff 146.0px,#00d0ff 148.5px,#00f0ff 149.8px,#00f0ff 151.2px,#00c0ff 152.8px,#0088ff 155.0px,#0088ff 163.0px,#00d0ff 166.0px,#00e8ff 168.3px,#00e8ff 169.7px,#00c0ff 173.0px,#00c8ff 180.0px,#00c0ff 185.0px,#00c0ff 188.0px,#00e8ff 192.0px,#00f0ff 197.0px,#00a0ff 201.0px,#0098ff 204.0px)"></div>
<div class="abs" style="left:480.0px;top:210.0px;width:204.0px;height:21.0px;background:linear-gradient(to right,#00f0ff 0.5px,#00f0ff 99.0px,#0070ff 100.5px,#0088ff 104.0px,#0098ff 110.0px,#00c8ff 112.0px,#00e8ff 113.8px,#00e8ff 115.2px,#00b0ff 117.0px,#0090ff 119.0px,#0090ff 129.0px,#00d0ff 131.0px,#00f0ff 132.1px,#00f0ff 133.5px,#00c0ff 134.8px,#0090ff 137.0px,#0090ff 146.0px,#00d0ff 148.5px,#00f0ff 149.8px,#00f0ff 151.2px,#00c0ff 152.8px,#0088ff 155.0px,#0088ff 163.0px,#00d0ff 166.0px,#00e8ff 168.3px,#00e8ff 169.7px,#00c0ff 173.0px,#00c8ff 180.0px,#00c0ff 185.0px,#00c0ff 188.0px,#00e8ff 192.0px,#00f0ff 197.0px,#00a0ff 201.0px,#0098ff 204.0px)"></div>
<div class="abs m" style="left:480.0px;top:210.0px;width:204.0px;height:21.0px;background:linear-gradient(to right,#00e8ff 0.5px,#00e0ff 106.0px,#00d0ff 107.0px,#00e0ff 112.0px,#00f8ff 114.0px,#00d0ff 120.0px,#00c8ff 126.0px,#00f0ff 131.0px,#00c8ff 136.0px,#00c0ff 142.0px,#00d0ff 148.0px,#00f8ff 151.0px,#00d8ff 160.0px,#00e8ff 168.0px,#00f8ff 175.0px,#00d0ff 184.0px,#00e0ff 190.0px,#00f8ff 195.0px,#00c8ff 204.0px)"></div>
<div class="abs" style="left:480.0px;top:231.0px;width:204.0px;height:15.0px;background:linear-gradient(to right,#00e8ff 0.5px,#00e0ff 106.0px,#00d0ff 107.0px,#00e0ff 112.0px,#00f8ff 114.0px,#00d0ff 120.0px,#00c8ff 126.0px,#00f0ff 131.0px,#00c8ff 136.0px,#00c0ff 142.0px,#00d0ff 148.0px,#00f8ff 151.0px,#00d8ff 160.0px,#00e8ff 168.0px,#00f8ff 175.0px,#00d0ff 184.0px,#00e0ff 190.0px,#00f8ff 195.0px,#00c8ff 204.0px)"></div>
<div class="abs m" style="left:480.0px;top:231.0px;width:204.0px;height:15.0px;background:linear-gradient(to right,#00f0ff 0.5px,#00f0ff 111.5px,#00e8ff 113.0px,#00f0ff 120.0px,#00e0ff 132.0px,#00f8ff 140.0px,#00f0ff 150.0px,#00d8ff 160.0px,#00e8ff 170.0px,#00d0ff 180.0px,#00e8ff 190.0px,#00d0ff 204.0px)"></div>
<div class="abs" style="left:480.0px;top:246.0px;width:204.0px;height:15.0px;background:linear-gradient(to right,#00f0ff 0.5px,#00f0ff 111.5px,#00e8ff 113.0px,#00f0ff 120.0px,#00e0ff 132.0px,#00f8ff 140.0px,#00f0ff 150.0px,#00d8ff 160.0px,#00e8ff 170.0px,#00d0ff 180.0px,#00e8ff 190.0px,#00d0ff 204.0px)"></div>
<div class="abs m" style="left:480.0px;top:246.0px;width:204.0px;height:15.0px;background:linear-gradient(to right,#00f0ff 0.5px,#00f8ff 109.0px,#00f0ff 120.0px,#00e0ff 127.0px,#00f8ff 132.0px,#00f0ff 140.0px,#00f8ff 150.0px,#00e8ff 160.0px,#00f8ff 170.0px,#00f0ff 180.0px,#00f8ff 190.0px,#00e8ff 204.0px)"></div>
<div class="abs" style="left:480.0px;top:261.0px;width:204.0px;height:10.0px;background:linear-gradient(to right,#00f0ff 0.5px,#00f8ff 109.0px,#00f0ff 120.0px,#00e0ff 127.0px,#00f8ff 132.0px,#00f0ff 140.0px,#00f8ff 150.0px,#00e8ff 160.0px,#00f8ff 170.0px,#00f0ff 180.0px,#00f8ff 190.0px,#00e8ff 204.0px)"></div>
<div class="abs m" style="left:480.0px;top:261.0px;width:204.0px;height:10.0px;background:linear-gradient(to right,#00f4ff 0.5px,#00f8ff 204.0px)"></div>
<div class="abs" style="left:480.0px;top:271.0px;width:204.0px;height:10.0px;background:linear-gradient(to right,#00f4ff 0.5px,#00f8ff 204.0px)"></div>
<div class="abs m" style="left:480.0px;top:271.0px;width:204.0px;height:10.0px;background:linear-gradient(to right,#00f8ff 0.5px,#00f8ff 204.0px)"></div>
<div class="abs" style="left:480.0px;top:281.0px;width:204.0px;height:10.0px;background:linear-gradient(to right,#00f8ff 0.5px,#00f8ff 204.0px)"></div>
<div class="abs m" style="left:480.0px;top:281.0px;width:204.0px;height:10.0px;background:linear-gradient(to right,#00ffff 0.5px,#00ffff 204.0px)"></div>
<div class="abs" style="left:480.0px;top:291.0px;width:204.0px;height:7.5px;background:linear-gradient(to right,#00ffff 0.5px,#00ffff 204.0px)"></div>
<svg width="685" height="308" viewBox="0 0 685 308">
<defs><filter id="fa" x="-50%" y="-20%" width="200%" height="140%"><feGaussianBlur stdDeviation="0.9"/></filter></defs>
<path d="M485.3,192 C486.5,160 487.8,136 490.2,130.5 C492.6,136 495.5,160 499.2,192" fill="none" stroke="#00f4ff" stroke-width="2.4" filter="url(#fa)"/>
<path d="M488.6,133 L491.8,133 L491,126 L489.4,126 Z" fill="#00e0ff" filter="url(#fa)"/>
<defs><filter id="fb" x="-30%" y="-5%" width="160%" height="110%"><feGaussianBlur stdDeviation="0.85"/></filter>
<linearGradient id="fg0" x1="0" y1="0" x2="0" y2="1"><stop offset="0.000" stop-color="#0040ff" stop-opacity="0"/><stop offset="0.126" stop-color="#0040ff" stop-opacity="1"/><stop offset="0.613" stop-color="#0040ff" stop-opacity="1"/><stop offset="0.964" stop-color="#00a0ff" stop-opacity="1"/></linearGradient>
<linearGradient id="fg1" x1="0" y1="0" x2="0" y2="1"><stop offset="0.000" stop-color="#0040ff" stop-opacity="0"/><stop offset="0.098" stop-color="#0040ff" stop-opacity="1"/><stop offset="0.683" stop-color="#2020ff" stop-opacity="1"/><stop offset="0.967" stop-color="#0090ff" stop-opacity="1"/></linearGradient>
<linearGradient id="fg2" x1="0" y1="0" x2="0" y2="1"><stop offset="0.000" stop-color="#3020ff" stop-opacity="0"/><stop offset="0.124" stop-color="#3020ff" stop-opacity="1"/><stop offset="0.602" stop-color="#3020ff" stop-opacity="1"/><stop offset="0.973" stop-color="#0080ff" stop-opacity="1"/></linearGradient>
<linearGradient id="fg3" x1="0" y1="0" x2="0" y2="1"><stop offset="0.000" stop-color="#2020ff" stop-opacity="0"/><stop offset="0.179" stop-color="#2020ff" stop-opacity="1"/><stop offset="0.507" stop-color="#2020ff" stop-opacity="1"/><stop offset="0.940" stop-color="#00a0ff" stop-opacity="1"/></linearGradient>
<linearGradient id="fg4" x1="0" y1="0" x2="0" y2="1"><stop offset="0.000" stop-color="#0030ff" stop-opacity="0"/><stop offset="0.169" stop-color="#0030ff" stop-opacity="1"/><stop offset="0.479" stop-color="#0030ff" stop-opacity="1"/><stop offset="0.944" stop-color="#00a0ff" stop-opacity="1"/></linearGradient>
<linearGradient id="fg5" x1="0" y1="0" x2="0" y2="1"><stop offset="0.000" stop-color="#0050ff" stop-opacity="0"/><stop offset="0.132" stop-color="#0050ff" stop-opacity="1"/><stop offset="0.642" stop-color="#0048ff" stop-opacity="1"/><stop offset="0.962" stop-color="#00a0ff" stop-opacity="1"/></linearGradient>
<linearGradient id="fg6" x1="0" y1="0" x2="0" y2="1"><stop offset="0.000" stop-color="#0090ff" stop-opacity="0"/><stop offset="0.294" stop-color="#0080ff" stop-opacity="0.7"/><stop offset="0.462" stop-color="#0060ff" stop-opacity="1"/><stop offset="0.790" stop-color="#0060ff" stop-opacity="1"/><stop offset="0.966" stop-color="#00c0ff" stop-opacity="1"/></linearGradient>
<linearGradient id="fg7" x1="0" y1="0" x2="0" y2="1"><stop offset="0.000" stop-color="#0090ff" stop-opacity="0"/><stop offset="0.302" stop-color="#0088ff" stop-opacity="0.7"/><stop offset="0.474" stop-color="#0068ff" stop-opacity="1"/><stop offset="0.810" stop-color="#0068ff" stop-opacity="1"/><stop offset="0.966" stop-color="#00d0ff" stop-opacity="1"/></linearGradient>
<linearGradient id="fg8" x1="0" y1="0" x2="0" y2="1"><stop offset="0.000" stop-color="#0090ff" stop-opacity="0"/><stop offset="0.287" stop-color="#0080ff" stop-opacity="0.7"/><stop offset="0.451" stop-color="#0060ff" stop-opacity="1"/><stop offset="0.770" stop-color="#0060ff" stop-opacity="1"/><stop offset="0.967" stop-color="#00c0ff" stop-opacity="1"/></linearGradient>
<linearGradient id="fg9" x1="0" y1="0" x2="0" y2="1"><stop offset="0.000" stop-color="#0040ff" stop-opacity="0"/><stop offset="0.128" stop-color="#0040ff" stop-opacity="1"/><stop offset="0.312" stop-color="#0010ff" stop-opacity="1"/><stop offset="0.679" stop-color="#1008ff" stop-opacity="1"/><stop offset="1.000" stop-color="#0090ff" stop-opacity="1"/></linearGradient>
<linearGradient id="fg10" x1="0" y1="0" x2="0" y2="1"><stop offset="0.000" stop-color="#0050ff" stop-opacity="0"/><stop offset="0.133" stop-color="#0050ff" stop-opacity="1"/><stop offset="0.371" stop-color="#0020ff" stop-opacity="1"/><stop offset="0.648" stop-color="#2010ff" stop-opacity="1"/><stop offset="1.000" stop-color="#0080ff" stop-opacity="1"/></linearGradient>
<linearGradient id="fg11" x1="0" y1="0" x2="0" y2="1"><stop offset="0.000" stop-color="#0070ff" stop-opacity="0"/><stop offset="0.240" stop-color="#0070ff" stop-opacity="1"/><stop offset="0.640" stop-color="#0070ff" stop-opacity="1"/><stop offset="1.000" stop-color="#00c0ff" stop-opacity="1"/></linearGradient>
<linearGradient id="fg12" x1="0" y1="0" x2="0" y2="1"><stop offset="0.000" stop-color="#6010f0" stop-opacity="0"/><stop offset="0.160" stop-color="#6010f0" stop-opacity="1"/><stop offset="0.380" stop-color="#b000f0" stop-opacity="1"/><stop offset="0.720" stop-color="#a000f0" stop-opacity="1"/><stop offset="0.960" stop-color="#2040ff" stop-opacity="1"/></linearGradient>
<linearGradient id="fg13" x1="0" y1="0" x2="0" y2="1"><stop offset="0.000" stop-color="#ff00b0" stop-opacity="0"/><stop offset="0.135" stop-color="#ff00b0" stop-opacity="1"/><stop offset="0.279" stop-color="#ff0040" stop-opacity="1"/><stop offset="0.654" stop-color="#ff0060" stop-opacity="1"/><stop offset="0.962" stop-color="#8010f0" stop-opacity="1"/></linearGradient>
<linearGradient id="fg14" x1="0" y1="0" x2="0" y2="1"><stop offset="0.000" stop-color="#00e0ff" stop-opacity="0"/><stop offset="0.156" stop-color="#00e0ff" stop-opacity="1"/><stop offset="0.756" stop-color="#00c0ff" stop-opacity="1"/><stop offset="0.956" stop-color="#2040ff" stop-opacity="1"/></linearGradient>
<linearGradient id="fg15" x1="0" y1="0" x2="0" y2="1"><stop offset="0.000" stop-color="#ff00ff" stop-opacity="0"/><stop offset="0.139" stop-color="#ff00ff" stop-opacity="1"/><stop offset="0.337" stop-color="#ff00e0" stop-opacity="1"/><stop offset="0.634" stop-color="#ff0080" stop-opacity="1"/><stop offset="0.960" stop-color="#6020f0" stop-opacity="1"/></linearGradient>
<linearGradient id="fg16" x1="0" y1="0" x2="0" y2="1"><stop offset="0.000" stop-color="#4010f0" stop-opacity="0"/><stop offset="0.192" stop-color="#4010f0" stop-opacity="1"/><stop offset="0.923" stop-color="#2040ff" stop-opacity="1"/></linearGradient>
<linearGradient id="fg17" x1="0" y1="0" x2="0" y2="1"><stop offset="0.000" stop-color="#1000f8" stop-opacity="0"/><stop offset="0.132" stop-color="#1000f8" stop-opacity="1"/><stop offset="0.921" stop-color="#0040ff" stop-opacity="1"/></linearGradient>
</defs>
<g filter="url(#fb)">
<polygon points="480.5,176.0 480.8,244.0 482.1,259.1 484.7,287.0 486.4,259.1 487.2,244.0 486.7,176.0" fill="url(#fg0)"/>
<polygon points="490.5,160.0 489.8,183.0 488.3,244.0 489.8,257.6 493.0,283.0 496.1,257.6 497.6,244.0 497.7,183.0 496.0,160.0" fill="url(#fg1)"/>
<polygon points="499.6,176.0 500.1,183.0 501.2,198.0 503.6,244.0 505.2,259.8 508.6,289.0 513.7,259.8 516.2,244.0 520.0,198.0 523.7,183.0 524.5,176.0" fill="url(#fg2)"/>
<polygon points="519.5,210.0 517.4,244.0 518.4,255.6 520.6,277.0 522.2,255.6 523.0,244.0 522.5,210.0" fill="url(#fg3)"/>
<polygon points="525.5,210.0 524.0,244.0 525.5,256.9 528.6,281.0 531.5,256.9 532.8,244.0 529.5,210.0" fill="url(#fg4)"/>
<polygon points="533.2,176.0 534.4,244.0 535.4,257.3 537.7,282.0 540.5,257.3 541.8,244.0 543.4,176.0" fill="url(#fg5)"/>
<polygon points="546.0,150.0 545.4,192.0 542.8,244.0 543.7,252.8 545.5,269.0 547.5,252.8 548.5,244.0 550.4,192.0 550.5,150.0" fill="url(#fg6)"/>
<polygon points="553.5,150.0 552.8,192.0 551.5,244.0 552.5,251.7 554.5,266.0 556.5,251.7 557.5,244.0 557.8,192.0 557.5,150.0" fill="url(#fg7)"/>
<polygon points="560.5,150.0 560.2,192.0 559.8,244.0 561.0,253.8 563.4,272.0 565.8,253.8 567.0,244.0 566.6,192.0 566.0,150.0" fill="url(#fg8)"/>
<polygon points="569.5,176.0 569.4,183.0 569.6,198.0 571.6,244.0 573.0,258.4 575.7,285.0 576.8,258.4 577.2,244.0 575.6,198.0 575.4,183.0 575.0,176.0" fill="url(#fg9)"/>
<polygon points="578.6,176.0 578.6,200.0 579.0,244.0 579.5,256.9 580.6,281.0 582.8,256.9 583.8,244.0 584.2,200.0 583.5,176.0" fill="url(#fg10)"/>
<polygon points="587.0,212.0 587.3,244.0 587.9,250.3 589.2,262.0 590.6,250.3 591.2,244.0 591.0,212.0" fill="url(#fg11)"/>
<polygon points="492.0,172.0 491.8,183.0 490.8,244.0 491.6,253.8 493.2,272.0 495.0,253.8 495.8,244.0 497.5,183.0 497.0,172.0" fill="url(#fg12)"/>
<polygon points="501.4,176.0 501.6,183.0 502.4,198.0 505.0,244.0 505.9,256.6 507.9,280.0 508.9,256.6 509.4,244.0 509.0,198.0 508.7,183.0 508.6,176.0" fill="url(#fg13)"/>
<polygon points="509.9,176.0 509.9,244.0 509.8,251.7 509.6,266.0 510.3,251.7 510.7,244.0 511.9,176.0" fill="url(#fg14)"/>
<polygon points="514.0,176.0 513.5,183.0 512.0,198.0 510.6,244.0 510.2,255.6 509.6,277.0 513.2,255.6 515.0,244.0 518.0,198.0 520.6,183.0 521.5,176.0" fill="url(#fg15)"/>
<polygon points="519.2,214.0 518.8,244.0 519.4,251.7 520.5,266.0 521.4,251.7 521.8,244.0 521.8,214.0" fill="url(#fg16)"/>
<polygon points="570.8,198.0 572.0,244.0 572.8,254.5 574.5,274.0 574.9,254.5 575.0,244.0 574.2,198.0" fill="url(#fg17)"/>
</g>
<g fill="none" stroke="#3a3a3a" stroke-width="1.3">
<line x1="14.6" x2="14.6" y1="2.30" y2="298.55"/>
<line x1="218.7" x2="218.7" y1="2.30" y2="298.55"/>
</g>
<g fill="none" stroke="#4a4a4a" stroke-width="1.35">
<line x1="14.6" x2="218.7" y1="2.90" y2="2.90"/>
<line x1="14.6" x2="218.7" y1="45.05" y2="45.05"/>
<line x1="14.6" x2="218.7" y1="87.20" y2="87.20"/>
<line x1="14.6" x2="218.7" y1="129.35" y2="129.35"/>
<line x1="14.6" x2="218.7" y1="171.50" y2="171.50"/>
<line x1="14.6" x2="218.7" y1="213.65" y2="213.65"/>
<line x1="14.6" x2="218.7" y1="255.80" y2="255.80"/>
<line x1="14.6" x2="218.7" y1="297.95" y2="297.95"/>
</g>
<defs><path id="sp" d="M23.70 33.10C24.08 33.72 25.12 35.43 26.00 36.80C26.88 38.17 28.08 41.77 29.00 41.30C29.92 40.83 30.60 37.17 31.50 34.00C32.40 30.83 33.65 22.63 34.40 22.30C35.15 21.97 35.58 29.43 36.00 32.00C36.42 34.57 36.47 36.63 36.90 37.70C37.33 38.77 37.90 37.68 38.60 38.40C39.30 39.12 40.20 42.12 41.10 42.00C42.00 41.88 43.33 39.32 44.00 37.70C44.67 36.08 44.67 32.42 45.10 32.30C45.53 32.18 46.18 36.45 46.60 37.00C47.02 37.55 47.18 38.93 47.60 35.60C48.02 32.27 48.60 22.12 49.10 17.00C49.60 11.88 50.15 5.98 50.60 4.90C51.05 3.82 51.47 8.13 51.80 10.50C52.13 12.87 52.12 15.52 52.60 19.10C53.08 22.68 53.87 28.67 54.70 32.00C55.53 35.33 56.65 39.58 57.60 39.10C58.55 38.62 59.45 29.57 60.40 29.10C61.35 28.63 62.35 34.50 63.30 36.30C64.25 38.10 65.27 38.83 66.10 39.90C66.93 40.97 67.53 43.83 68.30 42.70C69.07 41.57 69.93 33.22 70.70 33.10C71.47 32.98 72.23 40.28 72.90 42.00C73.57 43.72 73.92 43.75 74.70 43.40C75.48 43.05 76.65 41.62 77.60 39.90C78.55 38.18 79.52 33.82 80.40 33.10C81.28 32.38 82.25 34.83 82.90 35.60C83.55 36.37 83.72 36.92 84.30 37.70C84.88 38.48 85.57 40.02 86.40 40.30C87.23 40.58 88.38 39.55 89.30 39.40C90.22 39.25 91.18 39.92 91.90 39.40C92.62 38.88 92.97 37.35 93.60 36.30C94.23 35.25 94.98 33.10 95.70 33.10C96.42 33.10 97.18 35.30 97.90 36.30C98.62 37.30 99.30 38.67 100.00 39.10C100.70 39.53 101.50 39.08 102.10 38.90C102.70 38.72 103.00 37.92 103.60 38.00C104.20 38.08 104.87 39.17 105.70 39.40C106.53 39.63 107.88 40.63 108.60 39.40C109.32 38.17 109.48 34.38 110.00 32.00C110.52 29.62 111.15 25.10 111.70 25.10C112.25 25.10 112.75 29.67 113.30 32.00C113.85 34.33 114.37 37.72 115.00 39.10C115.63 40.48 116.38 40.77 117.10 40.30C117.82 39.83 118.70 37.45 119.30 36.30C119.90 35.15 120.23 33.40 120.70 33.40C121.17 33.40 121.50 35.22 122.10 36.30C122.70 37.38 123.47 39.23 124.30 39.90C125.13 40.57 126.15 40.38 127.10 40.30C128.05 40.22 129.17 39.72 130.00 39.40C130.83 39.08 131.38 38.48 132.10 38.40C132.82 38.32 133.58 39.02 134.30 38.90C135.02 38.78 135.68 38.20 136.40 37.70C137.12 37.20 137.85 36.20 138.60 35.90C139.35 35.60 140.05 36.00 140.90 35.90C141.75 35.80 142.63 35.23 143.70 35.30C144.77 35.37 146.23 35.70 147.30 36.30C148.37 36.90 149.15 38.23 150.10 38.90C151.05 39.57 152.03 39.83 153.00 40.30C153.97 40.77 154.83 41.22 155.90 41.70C156.97 42.18 158.33 43.15 159.40 43.20C160.47 43.25 161.47 42.32 162.30 42.00C163.13 41.68 163.45 41.48 164.40 41.30C165.35 41.12 166.92 41.38 168.00 40.90C169.08 40.42 169.95 39.23 170.90 38.40C171.85 37.57 172.75 36.25 173.70 35.90C174.65 35.55 175.65 36.38 176.60 36.30C177.55 36.22 178.33 35.57 179.40 35.40C180.47 35.23 182.05 35.58 183.00 35.30C183.95 35.02 184.38 34.20 185.10 33.70C185.82 33.20 186.58 32.35 187.30 32.30C188.02 32.25 188.57 32.62 189.40 33.40C190.23 34.18 191.35 35.92 192.30 37.00C193.25 38.08 194.15 39.35 195.10 39.90C196.05 40.45 196.92 40.30 198.00 40.30C199.08 40.30 200.55 40.05 201.60 39.90C202.65 39.75 203.38 39.57 204.30 39.40C205.22 39.23 206.20 39.12 207.10 38.90C208.00 38.68 209.27 38.23 209.70 38.10"/></defs>
<g fill="none" stroke="#2a7bbd" stroke-width="1.1" stroke-linejoin="round">
<use href="#sp" y="0.00"/>
<use href="#sp" y="42.15"/>
<use href="#sp" y="84.30"/>
<use href="#sp" y="126.45"/>
<use href="#sp" y="168.60"/>
<use href="#sp" y="210.75"/>
<use href="#sp" y="252.90"/>
</g>
<g font-family="Liberation Serif" font-size="10.3" fill="#222" style="filter:grayscale(1)">
<text transform="translate(190.8 14.95) scale(0.9 1)">HC</text>
<text transform="translate(190.8 57.10) scale(0.9 1)">BC</text>
<text transform="translate(190.8 99.25) scale(0.9 1)">LC</text>
<text transform="translate(190.8 141.40) scale(0.9 1)">TC</text>
<text transform="translate(190.8 183.55) scale(0.9 1)">CC</text>
<text transform="translate(190.8 225.70) scale(0.9 1)">GC</text>
<text transform="translate(190.8 267.85) scale(0.9 1)">EC</text>
</g>
<g stroke="#000" stroke-width="1.4">
<line x1="243.0" x2="447.2" y1="18.30" y2="18.30"/>
<line x1="243.0" x2="447.2" y1="33.70" y2="33.70"/>
<line x1="243.0" x2="447.2" y1="49.20" y2="49.20"/>
<line x1="243.0" x2="447.2" y1="64.60" y2="64.60"/>
<line x1="243.0" x2="447.2" y1="80.30" y2="80.30"/>
<line x1="243.0" x2="447.2" y1="96.20" y2="96.20"/>
<line x1="480.0" x2="684.0" y1="18.40" y2="18.40"/>
<line x1="480.0" x2="684.0" y1="34.00" y2="34.00"/>
<line x1="480.0" x2="684.0" y1="49.30" y2="49.30"/>
<line x1="480.0" x2="684.0" y1="64.80" y2="64.80"/>
<line x1="480.0" x2="684.0" y1="80.20" y2="80.20"/>
<line x1="480.0" x2="684.0" y1="95.80" y2="95.80"/>
</g>
<rect x="242.8" y="2.75" width="204.7" height="295.85" fill="none" stroke="#000" stroke-width="1.3"/>
<rect x="479.7" y="2.75" width="204.3" height="295.85" fill="none" stroke="#000" stroke-width="1.3"/>
<g font-family="Liberation Sans" font-size="7" fill="#444" text-anchor="middle" style="filter:grayscale(1)">
<text x="0" y="0" transform="translate(23.80 306.85) scale(0.85 1)">400</text>
<text x="0" y="0" transform="translate(50.33 306.85) scale(0.85 1)">600</text>
<text x="0" y="0" transform="translate(76.86 306.85) scale(0.85 1)">800</text>
<text x="0" y="0" transform="translate(103.39 306.85) scale(0.85 1)">1000</text>
<text x="0" y="0" transform="translate(129.92 306.85) scale(0.85 1)">1200</text>
<text x="0" y="0" transform="translate(156.45 306.85) scale(0.85 1)">1400</text>
<text x="0" y="0" transform="translate(182.98 306.85) scale(0.85 1)">1600</text>
<text x="0" y="0" transform="translate(209.51 306.85) scale(0.85 1)">1800</text>
<text x="0" y="0" transform="translate(252.40 306.85) scale(0.85 1)">400</text>
<text x="0" y="0" transform="translate(278.93 306.85) scale(0.85 1)">600</text>
<text x="0" y="0" transform="translate(305.46 306.85) scale(0.85 1)">800</text>
<text x="0" y="0" transform="translate(331.99 306.85) scale(0.85 1)">1000</text>
<text x="0" y="0" transform="translate(358.52 306.85) scale(0.85 1)">1200</text>
<text x="0" y="0" transform="translate(385.05 306.85) scale(0.85 1)">1400</text>
<text x="0" y="0" transform="translate(411.58 306.85) scale(0.85 1)">1600</text>
<text x="0" y="0" transform="translate(438.11 306.85) scale(0.85 1)">1800</text>
<text x="0" y="0" transform="translate(489.10 306.85) scale(0.85 1)">400</text>
<text x="0" y="0" transform="translate(515.63 306.85) scale(0.85 1)">600</text>
<text x="0" y="0" transform="translate(542.16 306.85) scale(0.85 1)">800</text>
<text x="0" y="0" transform="translate(568.69 306.85) scale(0.85 1)">1000</text>
<text x="0" y="0" transform="translate(595.22 306.85) scale(0.85 1)">1200</text>
<text x="0" y="0" transform="translate(621.75 306.85) scale(0.85 1)">1400</text>
<text x="0" y="0" transform="translate(648.28 306.85) scale(0.85 1)">1600</text>
<text x="0" y="0" transform="translate(674.81 306.85) scale(0.85 1)">1800</text>
</g>
<g font-family="Liberation Serif" font-weight="bold" font-size="14" fill="#000" style="filter:grayscale(1)">
<text transform="translate(1.0 9.65) scale(0.93 1)">A</text>
<text transform="translate(227.5 9.65) scale(0.93 1)">B</text>
<text transform="translate(461.4 10.3) scale(1.04 1)">C</text>
</g>
</svg>
</body></html>
